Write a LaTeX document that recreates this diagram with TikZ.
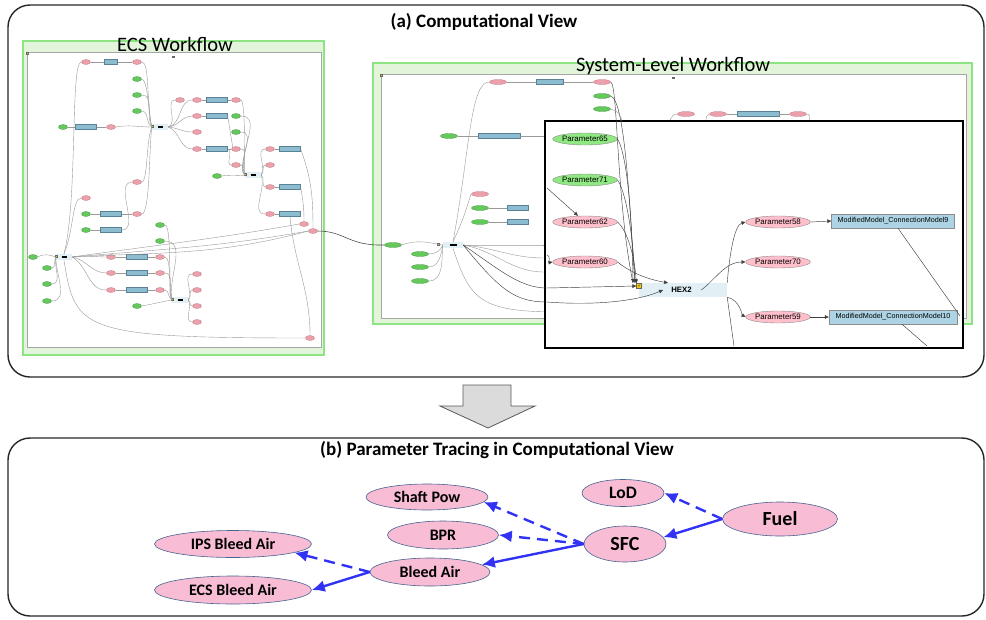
\documentclass[tikz,border=0pt]{standalone}
\usepackage{fontspec}
\setmainfont{Carlito}
\newfontfamily\arialf{Liberation Sans}
\usetikzlibrary{arrows.meta,shapes.geometric}
\definecolor{bnpink}{RGB}{248,188,212}
\definecolor{bnline}{RGB}{70,100,145}
\definecolor{arrblue}{RGB}{50,50,245}
\definecolor{gframe}{RGB}{140,228,130}
\definecolor{gband}{RGB}{226,245,218}
\definecolor{tpk}{RGB}{236,160,172}
\definecolor{tpkd}{RGB}{190,120,130}
\definecolor{tgn}{RGB}{100,200,90}
\definecolor{tgnd}{RGB}{70,150,70}
\definecolor{tbl}{RGB}{140,188,208}
\definecolor{tbld}{RGB}{90,130,150}
\definecolor{hexbl}{RGB}{226,240,246}
\definecolor{ipk}{RGB}{255,192,203}
\definecolor{ign}{RGB}{144,232,130}
\definecolor{ibl}{RGB}{172,212,228}
\definecolor{ytag}{RGB}{240,200,0}
\begin{document}
\begin{tikzpicture}[x=1pt,y=-1pt,
  panel/.style={draw=black!85, line width=1.4pt, rounded corners=22pt},
  ttl/.style={font=\bfseries\fontsize{19}{19}\selectfont, inner sep=0pt},
  wft/.style={font=\fontsize{20.5}{20.5}\selectfont, inner sep=0pt},
  gbox/.style={draw=gframe, fill=gband, line width=2.4pt},
  ibox/.style={draw=black!35, fill=white, line width=0.9pt},
  tp/.style={ellipse, draw=tpkd, fill=tpk, line width=0.3pt, minimum width=9pt, minimum height=5pt, inner sep=0pt},
  tg/.style={tp, draw=tgnd, fill=tgn},
  tb/.style={rectangle, draw=tbld, fill=tbl, line width=0.3pt, minimum width=21pt, minimum height=5pt, inner sep=0pt},
  sp/.style={tp, minimum width=17pt},
  sg/.style={tg, minimum width=17pt},
  th/.style={rectangle, fill=hexbl, minimum width=16pt, minimum height=6pt, inner sep=0pt, font=\fontsize{3}{3}\selectfont},
  ty/.style={rectangle, fill=ytag, draw=black!60, line width=0.2pt, minimum size=2.6pt, inner sep=0pt},
  te/.style={draw=black!40, line width=0.4pt},
  tdark/.style={draw=black!70, line width=0.6pt},
  ie/.style={draw=black!75, line width=0.45pt},
  ia/.style={ie, -{Triangle[length=4pt,width=3.6pt]}},
  ipn/.style={ellipse, draw=black!45, fill=ipk, line width=0.4pt, minimum width=53pt, minimum height=12pt, inner sep=0pt, font=\arialf\fontsize{7.9}{8}\selectfont},
  ign/.style={ipn, fill=ign},
  ibn/.style={rectangle, draw=black!45, fill=ibl, line width=0.4pt, minimum height=14pt, inner sep=0pt, font=\arialf\fontsize{7.2}{8}\selectfont},
  bn/.style={ellipse, draw=bnline, fill=bnpink, line width=0.6pt, inner sep=0pt, font=\bfseries\fontsize{16}{16}\selectfont},
  ba/.style={draw=arrblue, line width=2.4pt, -{Latex[length=13pt,width=12pt]}},
  bd/.style={ba, dash pattern=on 11pt off 7pt}
]
\useasboundingbox (0,0) rectangle (986,619);

% ================= panel (a) =================
\draw[panel] (8,5) rectangle (984,377);
\node[ttl] (ta) at (484,22) {(a) Computational View};

% frames
\draw[gbox] (23,41) rectangle (324,355);
\draw[ibox] (27,52) rectangle (321,347);
\draw[gbox] (373,63) rectangle (972,324);
\draw[ibox] (381,74) rectangle (966,318);
\node[ty, minimum size=1.8pt] (e0mark) at (27,53) {};
\node[ty, minimum size=1.8pt] (s0mark) at (381,75) {};
\node[rectangle, fill=black!60, minimum width=3pt, minimum height=1.2pt, inner sep=0pt] (ecsdot) at (173,57) {};
\node[rectangle, fill=black!60, minimum width=3pt, minimum height=1.2pt, inner sep=0pt] (sldot) at (673,78) {};

% ---------- ECS thumbnail nodes ----------
\node[tp] (a1) at (86,62) {};
\node[tb, minimum width=13pt] (a2) at (111,62) {};
\node[tp] (a3) at (137,62) {};
\node[tg] (g1) at (137,79) {};
\node[tg] (g2) at (137,95) {};
\node[tg] (g3) at (137,111) {};
\node[tg] (b1) at (63,127) {};
\node[tb] (b2) at (86,127) {};
\node[tp] (b3) at (111,127) {};
\node[th] (h1) at (160,127) {\rule{5pt}{1.2pt}};
\node[ty] (y1) at (152,126) {};
\node[tp] (c1) at (180,100) {};
\node[tp] (c2) at (197,100) {};
\node[tb] (c3) at (217,100) {};
\node[tp] (c4) at (236,100) {};
\node[tp] (d1) at (197,116) {};
\node[tb] (d2) at (217,116) {};
\node[tg] (d3) at (236,116) {};
\node[tp] (e0) at (197,132) {};
\node[tg] (e1) at (236,132) {};
\node[tp] (f1) at (197,149) {};
\node[tb] (f2) at (217,149) {};
\node[tp] (f3) at (236,149) {};
\node[tp] (f4) at (236,165) {};
\node[tg] (f5) at (217,176) {};
\node[th] (h2) at (253,175) {\rule{5pt}{1.2pt}};
\node[ty] (y2) at (245,174) {};
\node[tp] (k1) at (270,149) {};
\node[tb] (k2) at (290,149) {};
\node[tp] (k3) at (270,165) {};
\node[tp] (k4) at (270,187) {};
\node[tb] (k5) at (290,187) {};
\node[tp] (k6) at (270,214) {};
\node[tb] (k7) at (290,214) {};
\node[tp] (k8) at (304,224) {};
\node[tp] (k9) at (313,231) {};
\node[tp] (m1) at (137,182) {};
\node[tp] (m2) at (86,198) {};
\node[tg] (m3) at (86,214) {};
\node[tb] (m4) at (111,214) {};
\node[tp] (m5) at (137,214) {};
\node[tg] (m6) at (86,230) {};
\node[tb] (m7) at (111,230) {};
\node[tg] (n1) at (160,225) {};
\node[tg] (n2) at (160,241) {};
\node[th] (h3) at (64,257) {\rule{5pt}{1.2pt}};
\node[ty] (y3) at (56,256) {};
\node[tg] (i0) at (33,257) {};
\node[tg] (i1) at (47,268) {};
\node[tg] (i2) at (47,284) {};
\node[tg] (i3) at (47,301) {};
\node[tp] (r1) at (111,257) {};
\node[tb] (r2) at (137,257) {};
\node[tp] (r3) at (160,257) {};
\node[tp] (r4) at (111,273) {};
\node[tb] (r5) at (137,273) {};
\node[tp] (r6) at (160,273) {};
\node[tp] (r7) at (111,290) {};
\node[tb] (r8) at (137,290) {};
\node[tp] (r9) at (160,290) {};
\node[th] (h4) at (180,300) {\rule{5pt}{1.2pt}};
\node[ty] (y4) at (172,299) {};
\node[tg] (q0) at (137,306) {};
\node[tp] (q1) at (197,274) {};
\node[tp] (q2) at (197,290) {};
\node[tp] (q3) at (197,306) {};
\node[tp] (q4) at (197,322) {};
\node[tp] (z1) at (310,338) {};

% ---------- ECS thumbnail edges ----------
\draw[te] (a1)--(a2) (a2)--(a3) (b1)--(b2) (b2)--(b3)
  (c2)--(c3) (c3)--(c4) (d1)--(d2) (f1)--(f2) (f2)--(f3)
  (k1)--(k2) (k4)--(k5) (k6)--(k7) (m3)--(m4) (m4)--(m5) (m6)--(m7)
  (r1)--(r2) (r2)--(r3) (r4)--(r5) (r5)--(r6) (r7)--(r8) (r8)--(r9);
\draw[te] (h3.north) .. controls (78,200) and (70,62) .. (a1.west);
\draw[te] (h3.north) .. controls (74,230) and (72,198) .. (m2.west);
\draw[te] (a3.east) .. controls (150,62) and (146,100) .. (h1.west);
\draw[te] (g1.east) .. controls (148,80) and (148,110) .. (h1.west);
\draw[te] (g2.east) to[out=0,in=120] (h1.west);
\draw[te] (g3.east) to[out=0,in=150] (h1.west);
\draw[te] (b3.east) to[out=10,in=180] (h1.west);
\draw[te] (m1.east) .. controls (148,182) and (146,140) .. (h1.west);
\draw[te] (m5.east) .. controls (150,214) and (149,150) .. (h1.west);
\draw[te] (m7.east) to[out=0,in=180] (m1.west);
\draw[te] (h1.east) to[out=20,in=180] (c1.west);
\draw[te] (h1.east) to[out=10,in=180] (c2.west);
\draw[te] (h1.east) to[out=5,in=180] (d1.west);
\draw[te] (h1.east) to[out=-5,in=180] (e0.west);
\draw[te] (h1.east) to[out=-20,in=180] (f1.west);
\draw[te] (d2.east) -- (f3.north west);
\draw[te] (f2.east) to[out=-20,in=180] (f4.west);
\draw[te] (c4.east) .. controls (246,100) and (244,160) .. (h2.west);
\draw[te] (d3.east) to[out=0,in=110] (h2.west);
\draw[te] (e1.east) to[out=0,in=120] (h2.west);
\draw[te] (f3.east) to[out=0,in=140] (h2.west);
\draw[te] (f4.east) to[out=0,in=160] (h2.west);
\draw[te] (f5.east) to[out=10,in=190] (h2.west);
\draw[te] (h2.east) to[out=60,in=180] (k1.west);
\draw[te] (h2.east) to[out=30,in=180] (k3.west);
\draw[te] (h2.east) to[out=-30,in=180] (k4.west);
\draw[te] (h2.east) to[out=-70,in=180] (k6.west);
\draw[te] (k2.east) to[out=-70,in=90] (k9.north);
\draw[te] (k5.east) to[out=-80,in=90] (k8.north);
\draw[te] (k7.south) to[out=-85,in=90] (z1.north);
\draw[te] (h3.east) to[out=8,in=190] (k8.west);
\draw[te] (h3.east) to[out=5,in=190] (k9.west);
\draw[te] (h3.east) to[out=3,in=195] (k9.west);
\draw[te] (h3.east) to[out=10,in=180] (r1.west);
\draw[te] (h3.east) to[out=-10,in=180] (r4.west);
\draw[te] (h3.east) to[out=-30,in=180] (r7.west);
\draw[te] (h3.south) .. controls (75,330) and (80,338) .. (z1.west);
\draw[te] (i0.east) to[out=30,in=160] (h3.west);
\draw[te] (i1.east) to[out=0,in=-120] (h3.west);
\draw[te] (i2.east) to[out=0,in=-100] (h3.west);
\draw[te] (i3.east) to[out=0,in=-90] (h3.west);
\draw[te] (r3.east) .. controls (172,257) and (168,290) .. (h4.west);
\draw[te] (r6.east) to[out=0,in=120] (h4.west);
\draw[te] (r9.east) to[out=0,in=150] (h4.west);
\draw[te] (n1.east) .. controls (172,225) and (168,280) .. (h4.west);
\draw[te] (n2.east) to[out=0,in=100] (h4.west);
\draw[te] (q0.east) to[out=10,in=190] (h4.west);
\draw[te] (h4.east) to[out=60,in=180] (q1.west);
\draw[te] (h4.east) to[out=20,in=180] (q2.west);
\draw[te] (h4.east) to[out=-20,in=180] (q3.west);
\draw[te] (h4.east) to[out=-60,in=180] (q4.west);

% ---------- System-level thumbnail nodes ----------
\node[sp] (s1) at (498,82) {};
\node[tb, minimum width=27pt] (s2) at (550,82) {};
\node[sp] (s3) at (602,82) {};
\node[sg] (s4) at (602,96) {};
\node[sg] (s5) at (602,109) {};
\node[sg] (s6) at (449,136) {};
\node[tb, minimum width=42pt] (s7) at (499,136) {};
\node[sp] (s8) at (556,136) {};
\node[sp] (s9) at (480,194) {};
\node[sg] (s10) at (480,208) {};
\node[tb] (s11) at (518,208) {};
\node[sg] (s12) at (480,222) {};
\node[tb] (s13) at (518,222) {};
\node[sg] (s0) at (393,245) {};
\node[th, minimum width=20pt] (sh) at (453,245) {\rule{7pt}{1.2pt}};
\node[ty] (ys) at (438,244) {};
\node[sg] (s14) at (420,254) {};
\node[sg] (s15) at (420,267) {};
\node[sg] (s16) at (420,281) {};
\node[sp] (s21) at (553,245) {};
\node[sp] (s22) at (553,258) {};
\node[sp] (s23) at (553,272) {};
\node[sp] (s17) at (686,114) {};
\node[sp] (s18) at (718,114) {};
\node[tb, minimum width=42pt] (s19) at (758,114) {};
\node[sp] (s20) at (798,114) {};
\coordinate (sb1) at (668,130);
\coordinate (sb2) at (706,130);
\coordinate (sb3) at (808,130);
\coordinate (sb4) at (560,312);

% ---------- System-level thumbnail edges ----------
\draw[te] (s1)--(s2) (s2)--(s3) (s6)--(s7) (s7)--(s8) (s10)--(s11) (s12)--(s13)
  (s18)--(s19) (s19)--(s20);
\draw[tdark] (k9.east) .. controls (345,231) and (348,246) .. (s0.west);
\draw[te] (s0.east) to[out=20,in=170] (sh.west);
\draw[te] (s14.east) to[out=0,in=-110] (sh.west);
\draw[te] (s15.east) to[out=0,in=-100] (sh.west);
\draw[te] (s16.east) to[out=0,in=-95] (sh.west);
\draw[te] (sh.north) .. controls (470,150) and (470,82) .. (s1.west);
\draw[te] (sh.north) .. controls (468,210) and (470,194) .. (s9.west);
\draw[te] (sh.east) to[out=0,in=180] (s21.west);
\draw[te] (sh.east) to[out=-5,in=180] (s22.west);
\draw[te] (sh.east) to[out=-10,in=180] (s23.west);
\draw[te] (sh.south) .. controls (470,300) and (480,312) .. (sb4);
\draw[te] (sb1) to[out=80,in=180] (s17.west);
\draw[te] (sb2) to[out=80,in=200] (s18.west);
\draw[te] (s20.east) to[out=0,in=100] (sb3);

% frame titles (over the frame borders)
\node[wft] (tecs) at (175,44) {ECS Workflow};
\node[wft] (tsl) at (673,66) {System-Level Workflow};

% ---------- inset (zoomed view) ----------
\draw[draw=black, fill=white, line width=2.6pt] (545,121) rectangle (963,348);
\node[ign] (ip65) at (585,139) {Parameter65};
\node[ign] (ip71) at (585,180) {Parameter71};
\node[ipn] (ip62) at (585,222) {Parameter62};
\node[ipn] (ip60) at (585,262) {Parameter60};
\node[rectangle, fill=hexbl, minimum width=88pt, minimum height=14pt, inner sep=0pt,
  font=\arialf\bfseries\fontsize{7.8}{8}\selectfont] (hex) at (683,290) {\hspace*{-3pt}HEX2};
\node[ty, minimum size=5pt, font=\fontsize{4}{4}\selectfont] (iy) at (639,286) {+};
\node[ipn] (ip58) at (778,222) {Parameter58};
\node[ipn] (ip70) at (778,262) {Parameter70};
\node[ipn] (ip59) at (778,317) {Parameter59};
\node[ibn, minimum width=123pt] (cm9) at (893,221) {ModifiedModel\_ConnectionModel9};
\node[ibn, minimum width=128pt] (cm10) at (893,317) {ModifiedModel\_ConnectionModel10};
\coordinate (cL1) at (547,188);
\coordinate (cL2) at (547,255);
\coordinate (cL3) at (547,288);
\coordinate (cL4) at (547,302);
\coordinate (cR1) at (960,316);
\coordinate (cB1) at (927,346);
\coordinate (cB2) at (734,346);
\coordinate (cT1) at (633,283);
\coordinate (cT2) at (635,283);

\draw[ia] (ip65.east) .. controls (625,150) and (632,200) .. (cT1);
\draw[ia] (ip71.east) .. controls (625,190) and (633,230) .. (cT2);
\draw[ia] (ip62.east) .. controls (625,228) and (634,250) .. (iy.north west);
\draw[ia] (ip60.east) .. controls (625,268) and (640,278) .. (hex.north west -| 668,0);
\draw[ia] (cL1) -- ([xshift=-7pt]ip62.north);
\draw[ia] (cL2) to[out=-5,in=190] (ip60.west);
\draw[ia] (cL3) -- (iy.west);
\draw[ia] (cL4) .. controls (600,306) and (640,300) .. ([xshift=-20pt]hex.center);
\draw[ie] (sh.east) .. controls (500,270) and (520,288) .. (cL3);
\draw[ie] (sh.east) .. controls (500,290) and (515,302) .. (cL4);
\draw[ia] ([xshift=-26pt]hex.east) .. controls (715,280) and (725,262) .. (ip70.west);
\draw[ia] (hex.north east) .. controls (730,250) and (735,225) .. (ip58.west);
\draw[ia] (hex.south east) .. controls (740,300) and (742,315) .. (ip59.west);
\draw[ie] (hex.south east) -- (cB2);
\draw[ia] (ip58.east) -- (cm9.west);
\draw[ia] (ip59.east) -- (cm10.west);
\draw[ie] ([xshift=5pt]cm9.south) -- (cR1);
\draw[ie] ([xshift=9pt]cm10.south) -- (cB1);
% lines entering the inset from the thumbnail above
\draw[ie] (s3.east) .. controls (618,84) and (616,200) .. (cT1);
\draw[ie] (s4.east) .. controls (626,100) and (630,220) .. (cT2);
\draw[te] (s5.east) to[out=-10,in=100] (622,121);

% ================= arrow between panels =================
\draw[fill=black!14, draw=black!65, line width=0.8pt] (463,385) -- (511,385) -- (511,406) -- (535,406)
  -- (488,428) -- (440,406) -- (463,406) -- cycle;

% ================= panel (b) =================
\draw[panel] (8,438) rectangle (984,616);
\node[ttl] (tb) at (497,450) {(b) Parameter Tracing in Computational View};

\node[bn, minimum width=122pt, minimum height=26pt] (shaft) at (427,497) {Shaft Pow};
\node[bn, minimum width=82pt, minimum height=27pt, font=\bfseries\fontsize{17.5}{17.5}\selectfont] (lod) at (623,493) {LoD};
\node[bn, minimum width=115pt, minimum height=34pt, font=\bfseries\fontsize{20}{20}\selectfont] (fuel) at (780,519) {Fuel};
\node[bn, minimum width=111pt, minimum height=28pt] (bpr) at (443,535) {BPR};
\node[bn, minimum width=82pt, minimum height=36pt, font=\bfseries\fontsize{20}{20}\selectfont] (sfc) at (625,544) {SFC};
\node[bn, minimum width=157pt, minimum height=27pt] (ips) at (233,544) {IPS Bleed Air};
\node[bn, minimum width=120pt, minimum height=28pt] (bleed) at (430,572) {Bleed Air};
\node[bn, minimum width=157pt, minimum height=28pt] (ecs) at (233,590) {ECS Bleed Air};

\draw[bd] (fuel.west) -- (lod.east);
\draw[ba] (fuel.west) -- (sfc.10);
\draw[bd] (sfc.west) -- (shaft.-5);
\draw[bd] (sfc.west) -- (bpr.east);
\draw[ba] (sfc.west) -- (bleed.8);
\draw[bd] (bleed.west) -- (ips.-8);
\draw[ba] (bleed.west) -- (ecs.east);
\end{tikzpicture}
\end{document}
